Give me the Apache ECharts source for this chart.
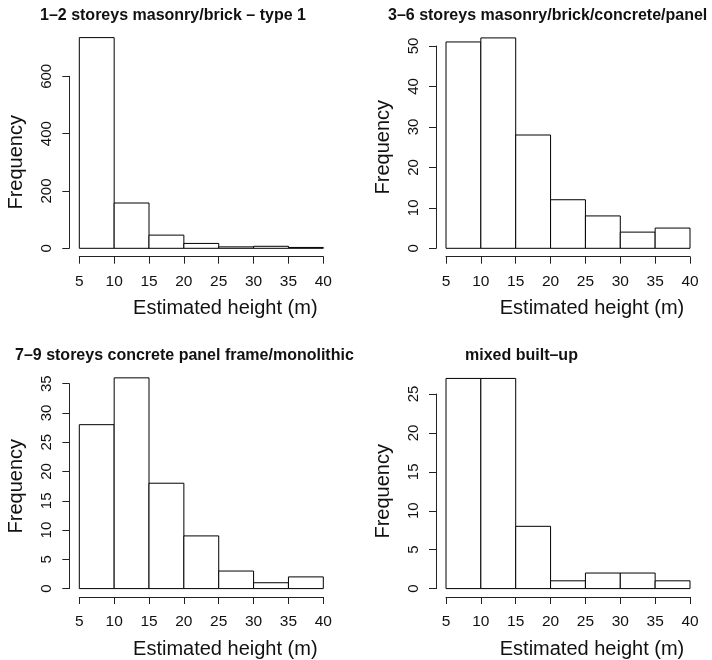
<!DOCTYPE html>
<html>
<head>
<meta charset="utf-8">
<script src="https://cdn.jsdelivr.net/npm/echarts@6/dist/echarts.min.js"></script>
<style>
html,body{margin:0;padding:0;background:#fff;}
#chart{width:712px;height:660px;}
</style>
</head>
<body>
<div id="chart"></div>
<script>
// ---- data ----
var binEdges = [5, 10, 15, 20, 25, 30, 35, 40];
var xTicks = [5, 10, 15, 20, 25, 30, 35, 40];
var titles = [
  '1\u20132 storeys masonry/brick \u2013 type 1',
  '3\u20136 storeys masonry/brick/concrete/panel',
  '7\u20139 storeys concrete panel frame/monolithic',
  'mixed built\u2013up'
];
var counts1 = [735, 158, 46, 17, 5, 7, 3];
var counts2 = [51, 52, 28, 12, 8, 4, 5];
var counts3 = [28, 36, 18, 9, 3, 1, 2];
var counts4 = [27, 27, 8, 1, 2, 2, 1];
var yMax = [600, 50, 35, 25];
var yStep = [200, 10, 5, 5];
var xLabel = 'Estimated height (m)';
var yLabel = 'Frequency';

// ---- layout ----
var FONT = 'Liberation Sans, Arial, Helvetica, sans-serif';
var panels = [
  {left: 79.3, top: 76.3, width: 244, height: 172, tl: 40, tt: 8},
  {left: 446, top: 46, width: 244, height: 202.3, tl: 388, tt: 8},
  {left: 79.3, top: 383.7, width: 244, height: 205, tl: 15, tt: 348},
  {left: 446, top: 394, width: 244, height: 194.7, tl: 465, tt: 348}
];
var allCounts = [counts1, counts2, counts3, counts4];

function histData(counts) {
  var d = [];
  for (var i = 0; i < counts.length; i++) d.push([binEdges[i], binEdges[i + 1], counts[i]]);
  return d;
}

function renderBar(params, api) {
  var p0 = api.coord([api.value(0), 0]);
  var p1 = api.coord([api.value(1), api.value(2)]);
  return {
    type: 'rect',
    shape: {x: p0[0], y: p1[1], width: p1[0] - p0[0], height: p0[1] - p1[1]},
    style: {fill: '#ffffff', stroke: '#000000', lineWidth: 1}
  };
}

var option = {
  backgroundColor: '#ffffff',
  animation: false,
  title: [], grid: [], xAxis: [], yAxis: [], series: []
};

panels.forEach(function (p, i) {
  option.title.push({
    text: titles[i], left: p.tl, top: p.tt, padding: 0,
    textStyle: {fontFamily: FONT, fontSize: 16, fontWeight: 'bold', color: '#111'}
  });
  option.grid.push({left: p.left, top: p.top, width: p.width, height: p.height, containLabel: false});
  option.xAxis.push({
    type: 'value', gridIndex: i, min: 5, max: 40, interval: 5, offset: 8.4,
    axisLine: {show: true, onZero: false, lineStyle: {color: '#222', width: 1}},
    axisTick: {show: true, length: 7, lineStyle: {color: '#222'}},
    axisLabel: {show: true, margin: 17, fontFamily: FONT, fontSize: 15.5, color: '#111',
      customValues: xTicks},
    splitLine: {show: false},
    name: xLabel, nameLocation: 'middle', nameGap: 42,
    nameTextStyle: {fontFamily: FONT, fontSize: 20, color: '#111', padding: [0, 0, 0, 48]}
  });
  option.yAxis.push({
    type: 'value', gridIndex: i, min: 0, max: yMax[i], interval: yStep[i], offset: 10,
    axisLine: {show: true, onZero: false, lineStyle: {color: '#222', width: 1}},
    axisTick: {show: true, length: 7, lineStyle: {color: '#222'}},
    axisLabel: {show: true, rotate: 90, margin: 15, fontFamily: FONT, fontSize: 15, color: '#111'},
    splitLine: {show: false},
    name: yLabel, nameLocation: 'middle', nameGap: 43,
    nameTextStyle: {fontFamily: FONT, fontSize: 20, color: '#111'}
  });
  option.series.push({
    type: 'custom', xAxisIndex: i, yAxisIndex: i, clip: false,
    renderItem: renderBar,
    encode: {x: [0, 1], y: 2},
    data: histData(allCounts[i])
  });
});

var chart = echarts.init(document.getElementById('chart'), null, {renderer: 'canvas'});
chart.setOption(option);
</script>
</body>
</html>
